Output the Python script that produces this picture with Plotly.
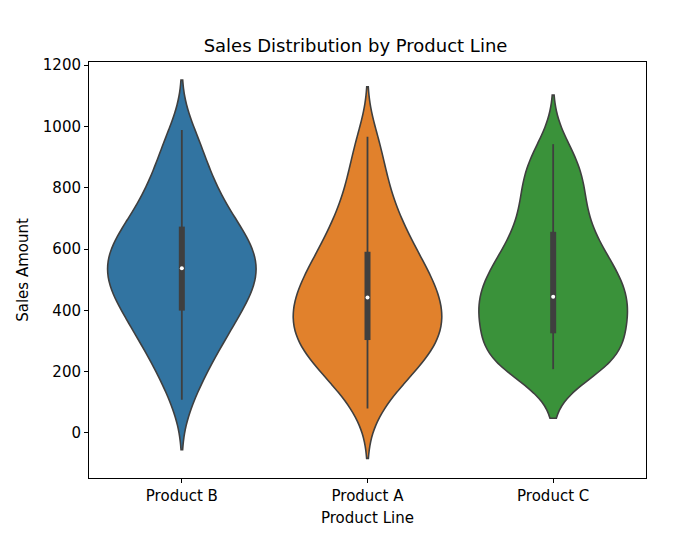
import plotly.graph_objects as go

products = ["Product B", "Product A", "Product C"]

# estimated individual sales amounts per product line
sales_b = [108, 177, 219, 252, 281, 305, 328, 349, 370, 388, 405, 422, 436, 452, 466,
           479, 493, 506, 519, 532, 544, 557, 569, 582, 596, 609, 623, 639, 654, 670,
           689, 708, 731, 755, 782, 811, 845, 884, 931, 988]
sales_a = [80, 140, 169, 196, 214, 234, 250, 265, 279, 294, 307, 320, 334, 347, 360,
           372, 385, 398, 412, 425, 439, 452, 466, 481, 495, 512, 528, 544, 563, 583,
           603, 626, 650, 678, 708, 743, 785, 834, 893, 966]
sales_c = [208, 213, 220, 228, 237, 247, 259, 273, 295, 319, 332, 346, 359, 372, 385,
           398, 410, 424, 438, 450, 464, 478, 492, 507, 522, 539, 555, 572, 592, 614,
           640, 666, 694, 726, 762, 795, 826, 856, 892, 942]
bandwidths = [81.5, 81.5, 80]

# box statistics
q1 = [399, 303, 325]
median = [537, 442, 444]
q3 = [673, 591, 656]
whisker_low = [108, 80, 208]
whisker_high = [988, 966, 942]

colors = ["#3274a1", "#e1812c", "#3a923a"]
y_ticks = [0, 200, 400, 600, 800, 1000, 1200]

edge = "#3f3f3f"
font = "DejaVu Sans"

fig = go.Figure()
for name, vals, bw, col in zip(products, [sales_b, sales_a, sales_c], bandwidths, colors):
    fig.add_trace(go.Violin(
        x=[name] * len(vals), y=vals, name=name,
        fillcolor=col, opacity=1, line=dict(color=edge, width=1.6),
        width=0.8, bandwidth=bw, spanmode="soft", scalemode="width",
        points=False, box_visible=False, meanline_visible=False,
        showlegend=False, hoverinfo="skip"))

for i, name in enumerate(products):
    fig.add_trace(go.Scatter(x=[name, name], y=[whisker_low[i], whisker_high[i]], mode="lines",
                             line=dict(color=edge, width=1.8), showlegend=False, hoverinfo="skip"))
    fig.add_trace(go.Scatter(x=[name, name], y=[q1[i], q3[i]], mode="lines",
                             line=dict(color=edge, width=6), showlegend=False, hoverinfo="skip"))
    fig.add_trace(go.Scatter(x=[name], y=[median[i]], mode="markers",
                             marker=dict(color="white", size=4, line=dict(width=0)),
                             showlegend=False, hoverinfo="skip"))

fig.update_layout(
    width=695, height=535,
    margin=dict(l=81, r=57, t=54, b=65),
    paper_bgcolor="white", plot_bgcolor="white",
    font=dict(family=font, size=15, color="black"),
    title=dict(text="Sales Distribution by Product Line", x=0.5, xanchor="center",
               y=1 - 38 / 535, yanchor="middle", yref="container",
               font=dict(family=font, size=18, color="black")),
    violinmode="overlay",
)
fig.update_xaxes(
    type="category", categoryorder="array", categoryarray=products,
    range=[-0.5, 2.5], showline=True, linecolor="black", linewidth=1, mirror=True,
    ticks="outside", ticklen=4, tickcolor="black", showgrid=False, zeroline=False,
    title=dict(text="Product Line", standoff=8, font=dict(size=15)),
)
fig.update_yaxes(
    range=[-147, 1210], tickvals=y_ticks, showline=True, linecolor="black", linewidth=1,
    mirror=True, ticks="outside", ticklen=4, tickcolor="black", showgrid=False,
    zeroline=False, title=dict(text="Sales Amount", standoff=10, font=dict(size=15)),
)

fig.write_html("out.html")
